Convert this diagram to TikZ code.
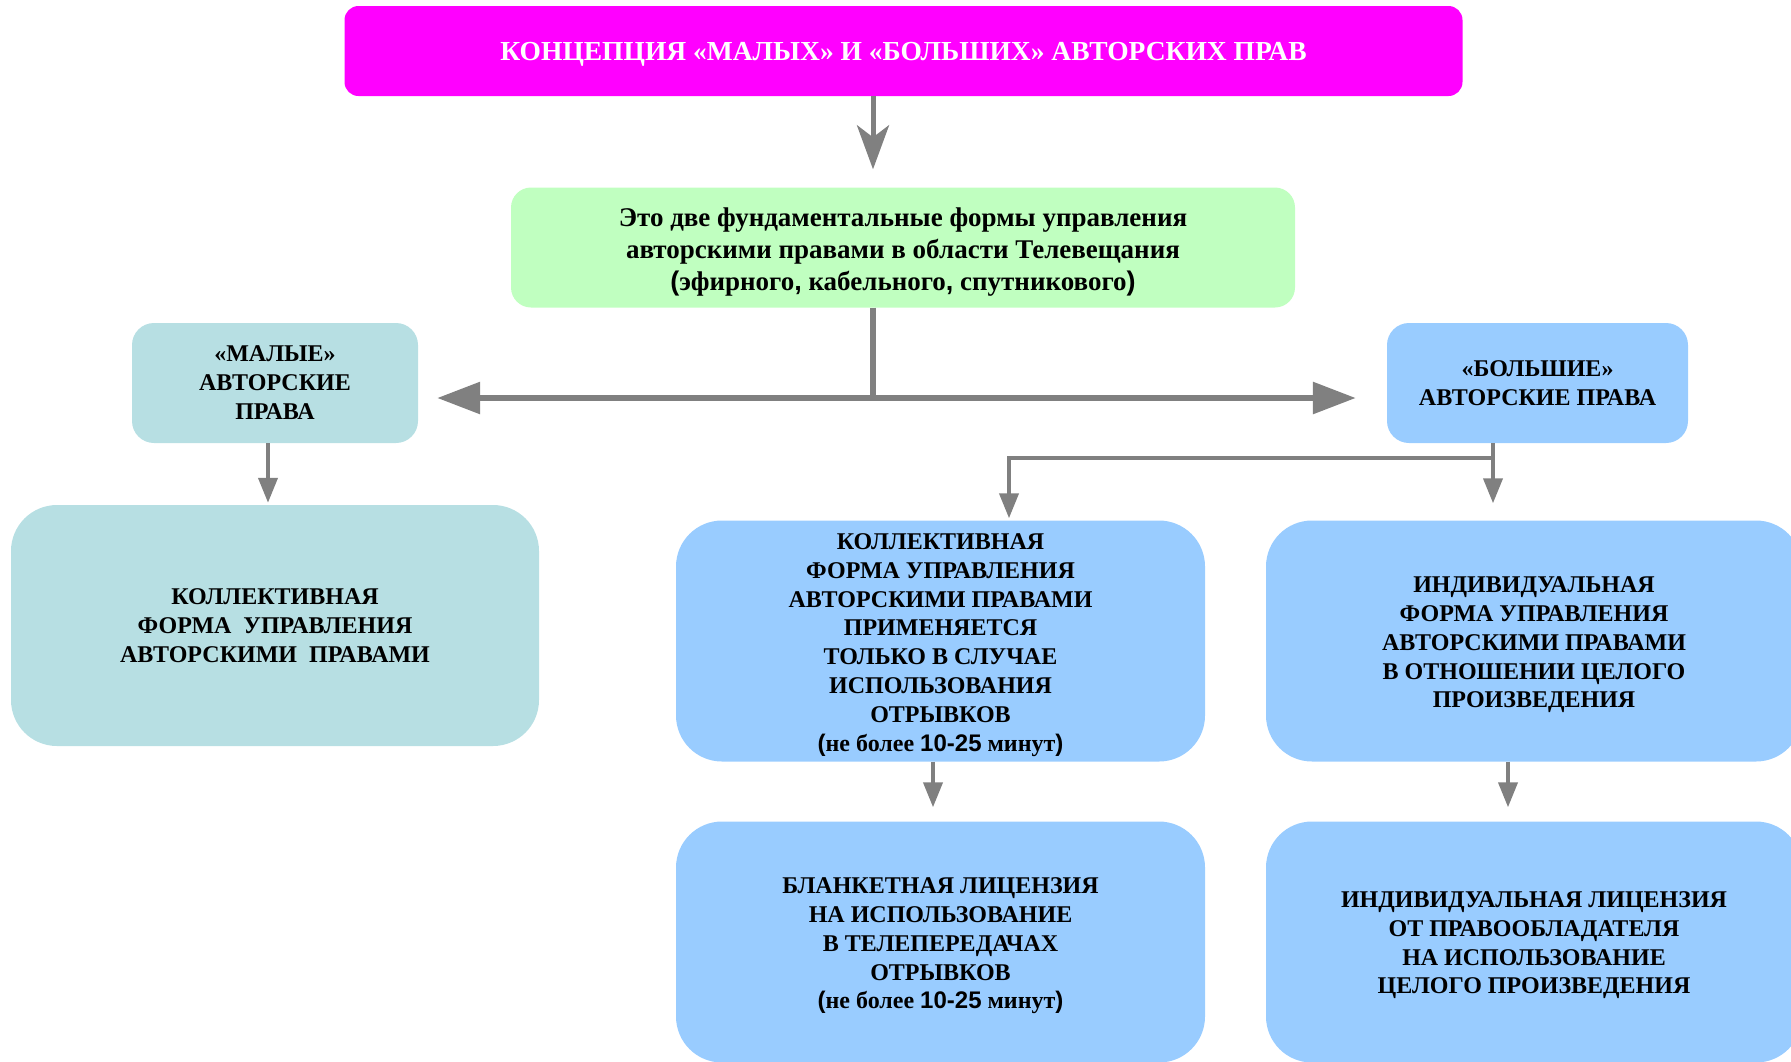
\documentclass[tikz,border=0pt]{standalone}
\usepackage{fontspec}
\setmainfont{Liberation Serif}
\newfontfamily\heavysans{Liberation Sans}
\usetikzlibrary{arrows.meta}
\definecolor{magentabox}{HTML}{FF00FF}
\definecolor{greenbox}{HTML}{C0FFC0}
\definecolor{aquabox}{HTML}{B7DFE3}
\definecolor{bluebox}{HTML}{99CCFF}
\definecolor{arrowgray}{HTML}{808080}
\newcommand{\hsf}[1]{{\heavysans\bfseries #1}}
\newcommand{\tx}[2][3.5pt]{\raisebox{-#1}[\height][\depth]{\begin{tabular}{@{}c@{}}#2\end{tabular}}}
\begin{document}
\begin{tikzpicture}[x=1pt,y=-1pt,
  card/.style={rounded corners=22pt, align=center, inner sep=0pt, text=black,
    font=\fontsize{24}{28.8}\selectfont\bfseries},
  bigcard/.style={card, rounded corners=46pt},
  mainline/.style={arrowgray, line width=6pt},
  mainarrow/.style={arrowgray, line width=6pt, -{Triangle[length=43pt,width=31pt]}},
  toparrow/.style={arrowgray, line width=5pt, -{Stealth[length=44pt,width=32pt,inset=12pt]}},
  smallarrow/.style={arrowgray, line width=4pt, -{Triangle[length=25pt,width=19pt]}}
]
\useasboundingbox (0,0) rectangle (1791,1061);
\clip (0,0) rectangle (1791,1061);

% nodes
\node[card, rounded corners=14pt, fill=magentabox, text=white,
  font=\fontsize{27.5}{32}\selectfont\bfseries,
  minimum width=1118pt, minimum height=90pt] (title) at (903.5,51)
  {\tx{КОНЦЕПЦИЯ «МАЛЫХ» И «БОЛЬШИХ» АВТОРСКИХ ПРАВ}};

\node[card, rounded corners=20pt, fill=greenbox,
  font=\fontsize{27}{32}\selectfont\bfseries,
  minimum width=784pt, minimum height=120pt] (intro) at (903,247.5)
  {\tx[4.5pt]{Это две фундаментальные формы управления\\
   авторскими правами в области Телевещания\\
   \hsf{(}эфирного\hsf{,} кабельного\hsf{,} спутникового\hsf{)}}};

\node[card, fill=aquabox, minimum width=286pt, minimum height=120pt] (small) at (275,383)
  {\tx[1.5pt]{«МАЛЫЕ»\\АВТОРСКИЕ\\ПРАВА}};

\node[card, fill=bluebox, minimum width=301pt, minimum height=120pt] (big) at (1537.5,383)
  {\tx[2pt]{«БОЛЬШИЕ»\\АВТОРСКИЕ ПРАВА}};

\node[bigcard, fill=aquabox, minimum width=528pt, minimum height=241pt] (leftc) at (275,625.5)
  {\tx[2pt]{КОЛЛЕКТИВНАЯ\\ФОРМА\ \ УПРАВЛЕНИЯ\\АВТОРСКИМИ\ \ ПРАВАМИ}};

\node[bigcard, fill=bluebox, minimum width=529pt, minimum height=241pt] (midc) at (940.5,641)
  {\tx{КОЛЛЕКТИВНАЯ\\ФОРМА УПРАВЛЕНИЯ\\АВТОРСКИМИ ПРАВАМИ\\ПРИМЕНЯЕТСЯ\\ТОЛЬКО В СЛУЧАЕ\\
   ИСПОЛЬЗОВАНИЯ\\ОТРЫВКОВ\\\hsf{(}не более \hsf{10-25} минут\hsf{)}}};

\node[bigcard, fill=bluebox, minimum width=536pt, minimum height=241pt] (rightc) at (1534,641)
  {\tx{ИНДИВИДУАЛЬНАЯ\\ФОРМА УПРАВЛЕНИЯ\\АВТОРСКИМИ ПРАВАМИ\\В ОТНОШЕНИИ ЦЕЛОГО\\ПРОИЗВЕДЕНИЯ}};

\node[bigcard, fill=bluebox, minimum width=529pt, minimum height=241pt] (botm) at (940.5,942)
  {\tx{БЛАНКЕТНАЯ ЛИЦЕНЗИЯ\\НА ИСПОЛЬЗОВАНИЕ\\В ТЕЛЕПЕРЕДАЧАХ\\ОТРЫВКОВ\\
   \hsf{(}не более \hsf{10-25} минут\hsf{)}}};

\node[bigcard, fill=bluebox, minimum width=536pt, minimum height=241pt] (botr) at (1534,942)
  {\tx[3pt]{ИНДИВИДУАЛЬНАЯ ЛИЦЕНЗИЯ\\ОТ ПРАВООБЛАДАТЕЛЯ\\НА ИСПОЛЬЗОВАНИЕ\\ЦЕЛОГО ПРОИЗВЕДЕНИЯ}};

% helper coordinates
\coordinate (cx) at (873,0);
\coordinate (jn) at (873,398);
\coordinate (sx) at (268,0);
\coordinate (bf) at (1493,458);
\coordinate (mx) at (1009,0);
\coordinate (dx1) at (933,0);
\coordinate (dx2) at (1508,0);

% connectors
\draw[toparrow, shorten >=18pt] (title.south -| cx) -- (intro.north -| cx);
\draw[mainline] (intro.south -| cx) -- (jn);
\draw[mainarrow, shorten >=19pt] (jn) -- (small.east |- jn);
\draw[mainarrow, shorten >=31pt] (jn) -- (big.west |- jn);
\draw[smallarrow, shorten >=2pt] (small.south -| sx) -- (leftc.north -| sx);
\draw[arrowgray, line width=4pt] (big.south -| bf) -- (bf);
\draw[smallarrow, shorten >=2pt] (bf) -| (midc.north -| mx);
\draw[smallarrow, shorten >=17pt] (bf) -- (rightc.north -| bf);
\draw[smallarrow, shorten >=14pt] (midc.south -| dx1) -- (botm.north -| dx1);
\draw[smallarrow, shorten >=14pt] (rightc.south -| dx2) -- (botr.north -| dx2);
\end{tikzpicture}
\end{document}
